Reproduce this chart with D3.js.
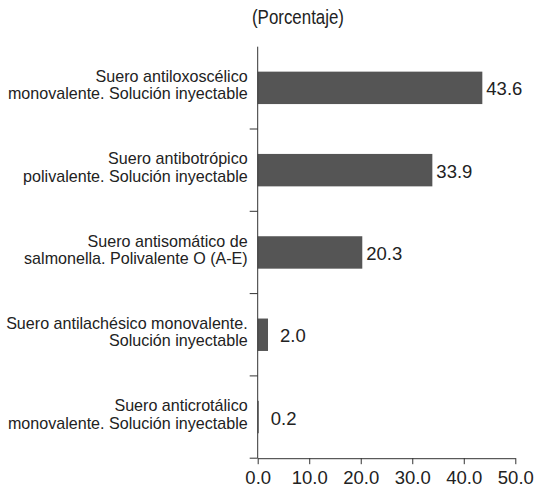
<!DOCTYPE html>
<html>
<head>
<meta charset="utf-8">
<script src="https://cdn.jsdelivr.net/npm/d3@7"></script>
<style>
  html, body { margin: 0; padding: 0; background: #fff; }
  svg { display: block; font-family: "Liberation Sans", Arial, sans-serif; }
</style>
</head>
<body>
<svg id="chart" width="535" height="489"></svg>
<script>
const categories = [
  ["Suero antiloxoscélico", "monovalente. Solución inyectable"],
  ["Suero antibotrópico", "polivalente. Solución inyectable"],
  ["Suero antisomático de", "salmonella. Polivalente O (A-E)"],
  ["Suero antilachésico monovalente.", "Solución inyectable"],
  ["Suero anticrotálico", "monovalente. Solución inyectable"]
];
const values = [43.6, 33.9, 20.3, 2.0, 0.2];
const xTicks = [0, 10, 20, 30, 40, 50];
const title = "(Porcentaje)";

const svg = d3.select("#chart");
const W = 535, H = 489;
const margin = { left: 257.7, right: 19.7, top: 46.7, bottom: 30.8 };

const x = d3.scaleLinear().domain([0, 50]).range([margin.left, W - margin.right]);
const y = d3.scaleBand().domain(d3.range(categories.length))
  .range([margin.top, H - margin.bottom]).paddingInner(0.606).paddingOuter(0.303);
const step = y.step();
const y0 = margin.top;
const yBottom = H - margin.bottom;

const textColor = "#222";
const axisColor = "#333";
const fontFam = "'Liberation Sans', Arial, sans-serif";

// title (slightly vertically stretched like the reference)
svg.append("text")
  .attr("transform", `translate(298,23.5) scale(1,1.15)`)
  .attr("text-anchor", "middle")
  .attr("font-size", 16.9).attr("fill", textColor).text(title);

// bars
svg.selectAll("rect.bar").data(values).join("rect")
  .attr("class", "bar")
  .attr("x", x(0))
  .attr("y", (d, i) => y(i))
  .attr("width", d => x(d) - x(0))
  .attr("height", y.bandwidth())
  .attr("fill", "#555555");

// value labels
svg.selectAll("text.val").data(values).join("text")
  .attr("class", "val")
  .attr("x", d => x(d) + 4 + (d < 5 ? 8 : 0))
  .attr("y", (d, i) => y(i) + y.bandwidth() / 2 + 7.5)
  .attr("font-size", 18.5).attr("fill", textColor)
  .text(d => d.toFixed(1));

// y axis line
svg.append("line").attr("x1", x(0)).attr("x2", x(0))
  .attr("y1", y0).attr("y2", yBottom)
  .attr("stroke", axisColor).attr("stroke-width", 1);

// y ticks at band boundaries
const bounds = d3.range(1, categories.length + 1).map(i => y0 + i * step);
svg.selectAll("line.ytick").data(bounds).join("line")
  .attr("class", "ytick")
  .attr("x1", x(0) - 8).attr("x2", x(0))
  .attr("y1", d => d).attr("y2", d => d)
  .attr("stroke", axisColor);

// x axis
const xAxis = d3.axisBottom(x).tickValues(xTicks).tickFormat(d => d.toFixed(1))
  .tickSize(6).tickSizeOuter(0);
const gx = svg.append("g").attr("transform", `translate(0,${yBottom})`).call(xAxis);
gx.select(".domain").attr("stroke", axisColor);
gx.selectAll(".tick line").attr("stroke", axisColor);
gx.selectAll(".tick text").attr("font-size", 18.5).attr("fill", textColor)
  .attr("font-family", fontFam).attr("y", 26.3).attr("dy", null);

// category labels (two lines in one text)
const labX = x(0) - 10;
const lineOffs = [-5.8, 11.6];
const cat = svg.selectAll("text.cat").data(categories).join("text")
  .attr("class", "cat")
  .attr("transform", (d, i) => `translate(${labX},${y(i) + y.bandwidth() / 2})`)
  .attr("text-anchor", "end")
  .attr("font-size", 16.1).attr("fill", textColor);
cat.selectAll("tspan").data(d => d).join("tspan")
  .attr("x", 0)
  .attr("y", (d, j) => lineOffs[j])
  .text(d => d);
</script>
</body>
</html>
